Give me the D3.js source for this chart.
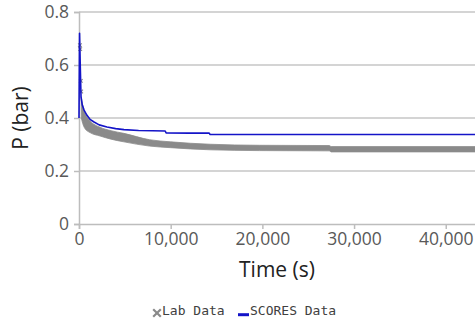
<!DOCTYPE html>
<html>
<head>
<meta charset="utf-8">
<script src="https://cdn.jsdelivr.net/npm/d3@7"></script>
<style>
  html, body { margin: 0; padding: 0; background: #fff; overflow: hidden; }
  svg { display: block; }
</style>
</head>
<body>
<svg id="chart" width="475" height="325"></svg>
<script>
// Pressure decay: simulated (SCORES) vs measured (lab) pressure over time
const xTicks = [0, 10000, 20000, 30000, 40000];
const yTicks = [0, 0.2, 0.4, 0.6, 0.8];

const scoresTime = [0, 60, 150, 220, 350, 550, 870, 1200, 1640, 2200, 3050, 4000, 4900, 6500, 8000, 9400, 9500, 12000, 14200, 14300, 20000, 30000, 45000];
const scoresP    = [0.40, 0.72, 0.58, 0.48, 0.45, 0.43, 0.41, 0.395, 0.385, 0.374, 0.366, 0.36, 0.356, 0.353, 0.352, 0.351, 0.344, 0.343, 0.343, 0.338, 0.338, 0.338, 0.338];

// lab readings: spread (highest / lowest reading) of the dense measurements
const labTime = [250, 400, 650, 1200, 2300, 3500, 4900, 7700, 10000, 14300, 19700, 27300, 27500, 45000];
const labHigh = [0.48, 0.45, 0.42, 0.39, 0.365, 0.352, 0.342, 0.318, 0.310, 0.301, 0.297, 0.296, 0.292, 0.292];
const labLow  = [0.40, 0.38, 0.36, 0.345, 0.332, 0.320, 0.310, 0.294, 0.288, 0.280, 0.277, 0.276, 0.272, 0.272];

// early scattered lab readings around the pressure spike
const labEarlyTime = [100, 130, 200, 240];
const labEarlyP    = [0.675, 0.66, 0.54, 0.50];

const seriesNames = ["Lab Data", "SCORES Data"];

const svg = d3.select("#chart");
const x = d3.scaleLinear().domain([0, 45000]).range([79, 491.6]);
const y = d3.scaleLinear().domain([0, 0.8]).range([224, 12]);

const fontMain = "'Open Sans', 'Liberation Sans', sans-serif";

// horizontal gridlines
svg.append("g").selectAll("line")
  .data(yTicks.filter(d => d > 0))
  .join("line")
  .attr("x1", x(0)).attr("x2", 475)
  .attr("y1", d => y(d)).attr("y2", d => y(d))
  .attr("stroke", "#c6c6c6").attr("stroke-width", 1.5);

// y axis
const yAxis = svg.append("g")
  .attr("transform", `translate(${x(0)},0)`)
  .call(d3.axisLeft(y).tickValues(yTicks).tickSize(5).tickPadding(5)
    .tickFormat(d => d === 0 ? "0" : d3.format(".1f")(d)));
yAxis.select(".domain").attr("stroke", "#bdbdbd").attr("stroke-width", 1.5);
yAxis.selectAll(".tick line").attr("stroke", "#bdbdbd").attr("stroke-width", 1.5);
yAxis.selectAll(".tick text")
  .attr("fill", "#595959").style("font-family", fontMain).style("font-size", "17.5px");

// x axis
const xAxis = svg.append("g")
  .attr("transform", `translate(0,${y(0)})`)
  .call(d3.axisBottom(x).tickValues(xTicks).tickSize(5).tickPadding(3.5)
    .tickFormat(d3.format(",")));
xAxis.select(".domain").attr("stroke", "#bdbdbd").attr("stroke-width", 1.5);
xAxis.selectAll(".tick line").attr("stroke", "#bdbdbd").attr("stroke-width", 1.5);
xAxis.selectAll(".tick text")
  .attr("fill", "#595959").style("font-family", fontMain).style("font-size", "17.5px");

// axis titles
svg.append("text")
  .attr("x", 277).attr("y", 277)
  .attr("text-anchor", "middle")
  .attr("fill", "#222").style("font-family", fontMain).style("font-size", "21px")
  .text("Time (s)");
svg.append("text")
  .attr("transform", "translate(28,118) rotate(-90)")
  .attr("text-anchor", "middle")
  .attr("fill", "#222").style("font-family", fontMain).style("font-size", "21px")
  .text("P (bar)");

const labColor = "#8a8a8a";
const scoresColor = "#1414c8";

// lab data: dense × markers merge into a grey band
const band = d3.area()
  .x((t, i) => x(t))
  .y0((t, i) => y(labLow[i]))
  .y1((t, i) => y(labHigh[i]))
  .curve(d3.curveMonotoneX);
svg.append("path")
  .datum(labTime)
  .attr("d", band)
  .attr("fill", labColor)
  .attr("stroke", labColor)
  .attr("stroke-width", 0.8);

const cross = (g, cx, cy, r, w) => {
  g.append("path")
    .attr("d", `M${cx - r},${cy - r}L${cx + r},${cy + r}M${cx - r},${cy + r}L${cx + r},${cy - r}`)
    .attr("stroke", labColor).attr("stroke-width", w).attr("fill", "none");
};
const early = svg.append("g");
labEarlyTime.forEach((t, i) => cross(early, x(t), y(labEarlyP[i]), 1.8, 1.2));

// SCORES simulation line
const line = d3.line().x(d => x(d[0])).y(d => y(d[1]));
svg.append("path")
  .datum(scoresTime.map((t, i) => [t, scoresP[i]]))
  .attr("d", line)
  .attr("fill", "none")
  .attr("stroke", scoresColor)
  .attr("stroke-width", 1.6)
  .attr("stroke-linejoin", "round");

// legend
const legendFont = "'DejaVu Sans Mono', 'Liberation Mono', monospace";
const leg = svg.append("g");
cross(leg, 157, 313, 3.8, 2.2);
leg.append("text")
  .attr("x", 162).attr("y", 315)
  .attr("fill", "#404040").style("font-family", legendFont).style("font-size", "13px")
  .text(seriesNames[0]);
leg.append("line")
  .attr("x1", 238).attr("x2", 249).attr("y1", 314.7).attr("y2", 314.7)
  .attr("stroke", scoresColor).attr("stroke-width", 3);
leg.append("text")
  .attr("x", 250).attr("y", 315)
  .attr("fill", "#404040").style("font-family", legendFont).style("font-size", "13px")
  .text(seriesNames[1]);
</script>
</body>
</html>
